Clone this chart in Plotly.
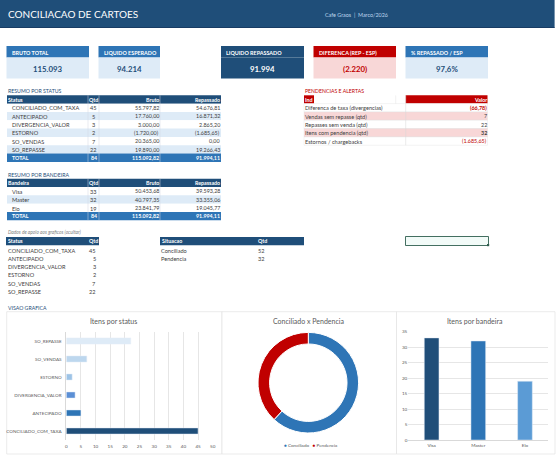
import plotly.graph_objects as go

W, H = 560, 459
FONT = "Lato"
NAVY, BLUE, PALE, RED, PINK, INK, GREY = "#1F4E79", "#2E75B6", "#DEEBF7", "#C00000", "#F8D7D7", "#404040", "#595959"

# ---------- data ----------
kpi_labels = ["BRUTO TOTAL", "LIQUIDO ESPERADO", "LIQUIDO REPASSADO", "DIFERENCA (REP - ESP)", "% REPASSADO / ESP"]
kpi_values = ["115.093", "94.214", "91.994", "(2.220)", "97,6%"]

status_names = ["CONCILIADO_COM_TAXA", "ANTECIPADO", "DIVERGENCIA_VALOR", "ESTORNO", "SO_VENDAS", "SO_REPASSE"]
status_qtd = [45, 5, 3, 2, 7, 22]
status_bruto = [55797.82, 17760.00, 3000.00, -1720.00, 20365.00, 19890.00]
status_repassado = [54676.81, 16871.32, 2865.20, -1685.65, 0.00, 19266.43]
status_colors = ["#1F4E79", "#2E75B6", "#5B8FD5", "#9DC3E6", "#BDD7EE", "#DEEBF7"]

bandeira_names = ["Visa", "Master", "Elo"]
bandeira_qtd = [33, 32, 19]
bandeira_bruto = [50453.68, 40797.35, 23841.79]
bandeira_repassado = [39593.28, 33355.06, 19045.77]
bandeira_colors = ["#1F4E79", "#2E75B6", "#5B9BD5"]

total_qtd = 84
total_bruto = 115092.82
total_repassado = 91994.11

alert_labels = ["Diferenca de taxa (divergencias)", "Vendas sem repasse (qtd)", "Repasses sem venda (qtd)",
                "Itens com pendencia (qtd)", "Estornos / chargebacks"]
alert_values = ["(66,78)", "7", "22", "32", "(1.685,65)"]

situacao_names = ["Conciliado", "Pendencia"]
situacao_qtd = [52, 32]


def brl(v):
    s = f"{abs(v):,.2f}".replace(",", "X").replace(".", ",").replace("X", ".")
    return f"({s})" if v < 0 else s


# ---------- pixel helpers ----------
shapes, notes = [], []


def rect(x0, y0, x1, y1, fill, line=None, lw=0.6):
    shapes.append(dict(type="rect", xref="paper", yref="paper", layer="below",
                       x0=x0 / W, x1=x1 / W, y0=1 - y0 / H, y1=1 - y1 / H, fillcolor=fill,
                       line=dict(color=line or fill, width=lw if line else 0)))


def vline(x, y0, y1, color, lw=0.6):
    shapes.append(dict(type="line", xref="paper", yref="paper", layer="below",
                       x0=x / W, x1=x / W, y0=1 - y0 / H, y1=1 - y1 / H, line=dict(color=color, width=lw)))


def text(x, y, s, size=5.6, color=INK, anchor="left", bold=False, italic=False):
    if bold:
        s = f"<b>{s}</b>"
    if italic:
        s = f"<i>{s}</i>"
    notes.append(dict(x=x / W, y=1 - y / H, xref="paper", yref="paper", text=s, showarrow=False,
                      xanchor=anchor, yanchor="middle", borderpad=0, borderwidth=0,
                      font=dict(family=FONT, size=size, color=color)))


# ---------- banner ----------
rect(0, 0, 554.6, 28, NAVY)
rect(0, 27.3, 554.6, 28, "#17375E")
text(8, 13.5, "CONCILIACAO DE CARTOES", size=10, color="white")
text(325, 15, "Cafe Graos  |  Marco/2026", size=5.4, color="#BDD7EE")

# ---------- KPI cards ----------
card_x = [(6.5, 89), (98.5, 160), (221, 304), (313.5, 396), (405.5, 488)]
card_head = [BLUE, BLUE, NAVY, RED, BLUE]
card_body = [PALE, PALE, NAVY, PINK, PALE]
card_ink = [NAVY, NAVY, "white", RED, NAVY]
for (x0, x1), head, body, ink, lab, val in zip(card_x, card_head, card_body, card_ink, kpi_labels, kpi_values):
    rect(x0, 46, x1, 57.5, head)
    rect(x0, 57.5, x1, 78.5, body)
    text(x0 + 5, 53.5, lab, size=5.4, color="white", bold=True)
    text((x0 + x1) / 2, 68.5, val, size=7.8, color=ink, anchor="center", bold=True)


# ---------- summary tables ----------
def summary(top, head, names, qtd, bruto, rep):
    rowh = 8.33
    cols = [7, 88, 99, 160, 221]
    rect(cols[0], top, cols[4], top + rowh, NAVY)
    y = top + rowh / 2 + 0.2
    text(8, y, head, size=5.3, color="white", bold=True)
    text(89, y, "Qtd", size=5.3, color="white", bold=True)
    text(159, y, "Bruto", size=5.3, color="white", anchor="right", bold=True)
    text(220, y, "Repassado", size=5.3, color="white", anchor="right", bold=True)
    for i, (n, q, b, r) in enumerate(zip(names, qtd, bruto, rep)):
        y0 = top + rowh * (i + 1)
        rect(cols[0], y0, cols[4], y0 + rowh, PALE if i % 2 else "white")
        y = y0 + rowh / 2 + 0.2
        text(11.5, y, n, size=5.6)
        text(93.5, y, str(q), size=5.6, anchor="center")
        text(159, y, brl(b), size=5.4, anchor="right")
        text(220, y, brl(r), size=5.4, anchor="right")
    y0 = top + rowh * (len(names) + 1)
    rect(cols[0], y0, cols[4], y0 + rowh, BLUE)
    y = y0 + rowh / 2 + 0.2
    text(11.5, y, "TOTAL", size=5.3, color="white", bold=True)
    text(93.5, y, str(total_qtd), size=5.3, color="white", anchor="center", bold=True)
    text(159, y, brl(total_bruto), size=5.3, color="white", anchor="right", bold=True)
    text(220, y, brl(total_repassado), size=5.3, color="white", anchor="right", bold=True)
    bottom = y0 + rowh
    for x in cols[1:4]:
        vline(x, top, bottom, "#D0D7E0", 0.5)


text(8, 91, "RESUMO POR STATUS", size=5.2, color=NAVY)
summary(95.3, "Status", status_names, status_qtd, status_bruto, status_repassado)
text(8, 174.5, "RESUMO POR BANDEIRA", size=5.2, color=NAVY)
summary(178.7, "Bandeira", bandeira_names, bandeira_qtd, bandeira_bruto, bandeira_repassado)

# ---------- alerts ----------
text(305, 91, "PENDENCIAS E ALERTAS", size=5.2, color=RED)
rect(304, 95.3, 314, 103.6, RED)
rect(405.7, 95.3, 487.5, 103.6, RED)
text(305, 99.6, "Ind", size=5.3, color="white", bold=True)
text(486.5, 99.6, "Valor", size=5.3, color="white", anchor="right", bold=True)
for i, (lab, val) in enumerate(zip(alert_labels, alert_values)):
    y0 = 103.6 + 8.33 * i
    rect(304, y0, 487.5, y0 + 8.33, PINK if i % 2 else "white", line="#E4E4E4", lw=0.4)
    y = y0 + 4.3
    text(305, y, lab, size=5.6, bold=False)
    ink = RED if i in (0, 4) else INK
    text(486.5, y, val, size=5.4, color=ink, anchor="right", bold=i in (0, 3))
vline(405.7, 95.3, 145.3, "#D9D9D9", 0.5)
vline(395.7, 95.3, 103.6, "#E4E4E4", 0.5)

# ---------- support tables ----------
text(7.5, 232, "Dados de apoio aos graficos (ocultar)", size=4.8, color="#7F7F7F", italic=True)
rect(6, 237, 99, 245.3, NAVY)
text(8, 241.3, "Status", size=5.3, color="white", bold=True)
text(89, 241.3, "Qtd", size=5.3, color="white", bold=True)
for i, (n, q) in enumerate(zip(status_names, status_qtd)):
    y = 250 + 8.33 * i
    text(7.5, y, n, size=5.6)
    text(96, y, str(q), size=5.6, anchor="right")
rect(160, 237, 304, 245.3, NAVY)
text(162, 241.3, "Situacao", size=5.3, color="white", bold=True)
text(257.5, 241.3, "Qtd", size=5.3, color="white", bold=True)
for i, (n, q) in enumerate(zip(situacao_names, situacao_qtd)):
    y = 250 + 8.33 * i
    text(161, y, n, size=5.6)
    text(265, y, str(q), size=5.6, anchor="right")

# selected spreadsheet cell
rect(405.5, 236.5, 488.5, 245.5, "#F2FBF8", line="#2F5F4F", lw=0.9)
rect(487, 244, 489.2, 246.2, "#2F5F4F")

# ---------- chart panels ----------
text(8, 307.5, "VISAO GRAFICA", size=5.2, color=NAVY, bold=False)
panels = [(6.7, 222), (222, 396.5), (396.5, 555)]
for x0, x1 in panels:
    rect(x0, 311.7, x1, 454, "white", line="#E3E3E3", lw=0.7)
text(113.5, 320.5, "Itens por status", size=7, color=GREY, anchor="center")
text(308, 320.5, "Conciliado x Pendencia", size=7, color=GREY, anchor="center")
text(475, 320.5, "Itens por bandeira", size=7, color=GREY, anchor="center")
text(310, 445, f'<span style="color:{BLUE}">●</span> Conciliado   <span style="color:{RED}">●</span> Pendencia',
     size=4.6, color=GREY, anchor="center")

fig = go.Figure()
fig.add_trace(go.Bar(y=status_names, x=status_qtd, orientation="h", marker=dict(color=status_colors),
                     width=0.34, xaxis="x", yaxis="y", showlegend=False))
fig.add_trace(go.Pie(labels=situacao_names, values=situacao_qtd, hole=0.77, sort=False, direction="clockwise",
                     rotation=0, marker=dict(colors=[BLUE, RED], line=dict(color="white", width=1)),
                     textinfo="none", showlegend=False,
                     domain=dict(x=[258 / W, 358.6 / W], y=[1 - 433 / H, 1 - 332.4 / H])))
fig.add_trace(go.Bar(x=bandeira_names, y=bandeira_qtd, marker=dict(color=bandeira_colors),
                     width=0.315, xaxis="x2", yaxis="y2", showlegend=False))

tick = dict(family=FONT, size=4.6, color=GREY)
clear = "rgba(0,0,0,0)"
fig.update_layout(
    width=W, height=H, margin=dict(l=0, r=0, t=0, b=0, pad=0), autosize=False,
    paper_bgcolor="white", plot_bgcolor="rgba(0,0,0,0)", font=dict(family=FONT),
    shapes=shapes, annotations=notes, showlegend=False,
    xaxis=dict(domain=[66.3 / W, 212.7 / W], range=[0, 50], dtick=5, tickfont=tick, showgrid=True, automargin=False,
               gridcolor="#E6E6E6", gridwidth=0.7, zeroline=False, showline=False, ticks="outside", ticklen=1,
               tickcolor=clear, anchor="y"),
    yaxis=dict(domain=[1 - 440 / H, 1 - 332 / H], tickfont=tick, showgrid=False, zeroline=False, automargin=False,
               showline=True, linecolor="#D9D9D9", linewidth=0.6, ticks="outside", ticklen=3, tickcolor=clear,
               anchor="x", type="category", categoryorder="array", categoryarray=status_names),
    xaxis2=dict(domain=[408.3 / W, 548.3 / W], tickfont=tick, showgrid=False, zeroline=False, showline=True,
                automargin=False, linecolor="#D9D9D9", linewidth=0.6, ticks="outside", ticklen=1, tickcolor=clear,
                anchor="y2", type="category"),
    yaxis2=dict(domain=[1 - 440 / H, 1 - 331.7 / H], range=[0, 35], dtick=5, tickfont=tick, showgrid=True,
                automargin=False, gridcolor="#E6E6E6", gridwidth=0.7, zeroline=False, showline=False, ticks="",
                anchor="x2"),
)

fig.write_html("out.html", config=dict(displayModeBar=False),
               post_script="document.body.style.margin='0';document.body.style.overflow='hidden';")
